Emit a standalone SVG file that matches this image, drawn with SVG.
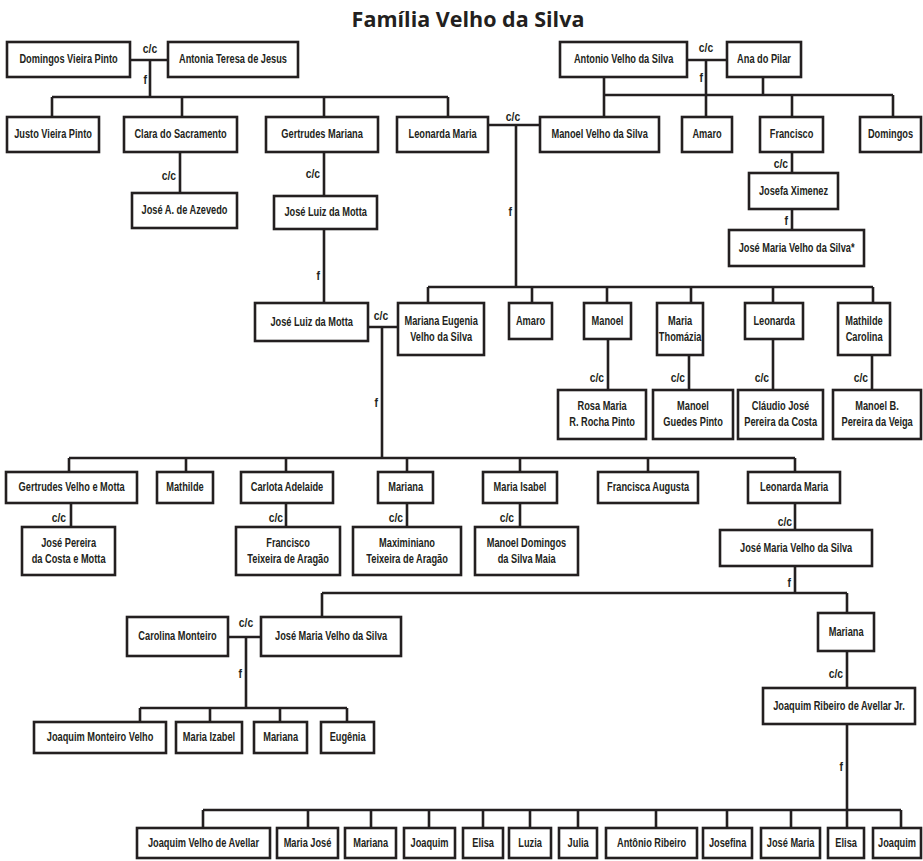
<svg xmlns="http://www.w3.org/2000/svg" width="923" height="861" viewBox="0 0 923 861">
<style>
.b{fill:#fff;stroke:#231f20;stroke-width:2.6}
.t{font-family:"Liberation Sans",Arial,sans-serif;font-weight:bold;font-size:12px;fill:#231f20;text-anchor:middle;transform-box:fill-box;transform-origin:center;transform:scaleX(.77)}
.l{font-family:"Liberation Sans",Arial,sans-serif;font-weight:bold;font-size:13px;fill:#231f20;transform-box:fill-box;transform:scaleX(.8)}
.e{text-anchor:end;transform-origin:right}
.m{text-anchor:middle;transform-origin:center}
.c{fill:none;stroke:#231f20;stroke-width:2.6}
.title{font-family:"Open Sans","Liberation Sans",sans-serif;font-weight:bold;font-size:21.5px;fill:#231f20;text-anchor:middle}
</style>
<rect width="923" height="861" fill="#fff"/>
<text class="title" x="468" y="27">Família Velho da Silva</text>
<g id="connectors">
<path class="c" d="M130,60H168M150,60V97M52,97H448M52,97V117M182,97V117M324,97V117M448,97V117"/>
<path class="c" d="M687,60H727M706,60V95M604,77V117M763,77V95M604,95H893M706,95V117M792,95V117M893,95V117"/>
<path class="c" d="M180,152V193M324,152V196M324,229V303M792,152V173M792,209V230"/>
<path class="c" d="M488,125H540M516,125V287M428,287H873M428,287V303M532,287V303M607,287V303M691,287V303M773,287V303M873,287V303"/>
<path class="c" d="M608,339V390M689,355V390M773,339V390M872,355V390"/>
<path class="c" d="M368,327H398M382,327V458M69,458H795M69,458V472M186,458V472M286,458V472M407,458V472M520,458V472M648,458V472M795,458V472"/>
<path class="c" d="M71,503V527M286,503V527M407,503V527M520,503V527M795,503V530M795,566V593M322,593H847M322,593V617M847,593V613M847,651V688M847,724V810"/>
<path class="c" d="M228,637H261M246,637V708M140,708H347M140,708V722M210,708V722M280,708V722M347,708V722"/>
<path class="c" d="M203,810H901M203,810V828M308,810V828M371,810V828M429,810V828M483,810V828M530,810V828M578,810V828M656,810V828M727,810V828M791,810V828M847,810V828M901,810V828"/>
<text class="l m" x="150" y="53">c/c</text>
<text class="l e" x="147" y="84">f</text>
<text class="l m" x="706" y="52">c/c</text>
<text class="l e" x="703" y="82">f</text>
<text class="l m" x="513" y="121">c/c</text>
<text class="l e" x="512" y="216">f</text>
<text class="l e" x="176" y="180">c/c</text>
<text class="l e" x="320" y="178">c/c</text>
<text class="l e" x="320" y="280">f</text>
<text class="l e" x="788" y="168">c/c</text>
<text class="l e" x="788" y="225">f</text>
<text class="l m" x="381" y="320">c/c</text>
<text class="l e" x="378" y="407">f</text>
<text class="l e" x="604" y="382">c/c</text>
<text class="l e" x="685" y="382">c/c</text>
<text class="l e" x="769" y="382">c/c</text>
<text class="l e" x="868" y="382">c/c</text>
<text class="l e" x="66" y="522">c/c</text>
<text class="l e" x="283" y="522">c/c</text>
<text class="l e" x="403" y="522">c/c</text>
<text class="l e" x="514" y="522">c/c</text>
<text class="l e" x="792" y="526">c/c</text>
<text class="l e" x="791" y="587">f</text>
<text class="l m" x="246" y="627">c/c</text>
<text class="l e" x="242" y="678">f</text>
<text class="l e" x="843" y="678">c/c</text>
<text class="l e" x="843" y="771">f</text>
</g>
<g id="n1"><rect class="b" x="7" y="42" width="123" height="35"/><text class="t" x="68.5" y="63.5">Domingos Vieira Pinto</text></g>
<g id="n2"><rect class="b" x="168" y="42" width="130" height="35"/><text class="t" x="233" y="63.5">Antonia Teresa de Jesus</text></g>
<g id="n3"><rect class="b" x="560" y="42" width="127" height="35"/><text class="t" x="623.5" y="63.5">Antonio Velho da Silva</text></g>
<g id="n4"><rect class="b" x="727" y="42" width="74" height="35"/><text class="t" x="764" y="63.5">Ana do Pilar</text></g>
<g id="n5"><rect class="b" x="7" y="117" width="92" height="35"/><text class="t" x="53" y="138.5">Justo Vieira Pinto</text></g>
<g id="n6"><rect class="b" x="124" y="117" width="113" height="35"/><text class="t" x="180.5" y="138.5">Clara do Sacramento</text></g>
<g id="n7"><rect class="b" x="266" y="117" width="112" height="35"/><text class="t" x="322" y="138.5">Gertrudes Mariana</text></g>
<g id="n8"><rect class="b" x="397" y="117" width="91" height="35"/><text class="t" x="442.5" y="138.5">Leonarda Maria</text></g>
<g id="n9"><rect class="b" x="540" y="117" width="119" height="35"/><text class="t" x="599.5" y="138.5">Manoel Velho da Silva</text></g>
<g id="n10"><rect class="b" x="682" y="117" width="50" height="35"/><text class="t" x="707" y="138.5">Amaro</text></g>
<g id="n11"><rect class="b" x="760" y="117" width="63" height="35"/><text class="t" x="791.5" y="138.5">Francisco</text></g>
<g id="n12"><rect class="b" x="860" y="117" width="61" height="35"/><text class="t" x="890.5" y="138.5">Domingos</text></g>
<g id="n13"><rect class="b" x="132" y="193" width="105" height="35"/><text class="t" x="184.5" y="214.5">José A. de Azevedo</text></g>
<g id="n14"><rect class="b" x="274" y="196" width="103" height="33"/><text class="t" x="325.5" y="216.5">José Luiz da Motta</text></g>
<g id="n15"><rect class="b" x="749" y="173" width="89" height="36"/><text class="t" x="793.5" y="195">Josefa Ximenez</text></g>
<g id="n16"><rect class="b" x="729" y="230" width="135" height="36"/><text class="t" x="796.5" y="252">José Maria Velho da Silva*</text></g>
<g id="n17"><rect class="b" x="255" y="303" width="113" height="38"/><text class="t" x="311.5" y="326">José Luiz da Motta</text></g>
<g id="n18"><rect class="b" x="398" y="303" width="86" height="52"/><text class="t" x="441" y="325">Mariana Eugenia</text><text class="t" x="441" y="341">Velho da Silva</text></g>
<g id="n19"><rect class="b" x="509" y="303" width="43" height="36"/><text class="t" x="530.5" y="325">Amaro</text></g>
<g id="n20"><rect class="b" x="584" y="303" width="47" height="36"/><text class="t" x="607.5" y="325">Manoel</text></g>
<g id="n21"><rect class="b" x="657" y="303" width="46" height="52"/><text class="t" x="680" y="325">Maria</text><text class="t" x="680" y="341">Thomázia</text></g>
<g id="n22"><rect class="b" x="745" y="303" width="58" height="36"/><text class="t" x="774" y="325">Leonarda</text></g>
<g id="n23"><rect class="b" x="838" y="303" width="52" height="52"/><text class="t" x="864" y="325">Mathilde</text><text class="t" x="864" y="341">Carolina</text></g>
<g id="n24"><rect class="b" x="558" y="390" width="88" height="49"/><text class="t" x="602" y="410.5">Rosa Maria</text><text class="t" x="602" y="426.5">R. Rocha Pinto</text></g>
<g id="n25"><rect class="b" x="653" y="390" width="80" height="49"/><text class="t" x="693" y="410.5">Manoel</text><text class="t" x="693" y="426.5">Guedes Pinto</text></g>
<g id="n26"><rect class="b" x="738" y="390" width="85" height="49"/><text class="t" x="780.5" y="410.5">Cláudio José</text><text class="t" x="780.5" y="426.5">Pereira da Costa</text></g>
<g id="n27"><rect class="b" x="833" y="390" width="88" height="49"/><text class="t" x="877" y="410.5">Manoel B.</text><text class="t" x="877" y="426.5">Pereira da Veiga</text></g>
<g id="n28"><rect class="b" x="6" y="472" width="131" height="31"/><text class="t" x="71.5" y="491.5">Gertrudes Velho e Motta</text></g>
<g id="n29"><rect class="b" x="157" y="472" width="56" height="31"/><text class="t" x="185" y="491.5">Mathilde</text></g>
<g id="n30"><rect class="b" x="241" y="472" width="92" height="31"/><text class="t" x="287" y="491.5">Carlota Adelaide</text></g>
<g id="n31"><rect class="b" x="378" y="472" width="55" height="31"/><text class="t" x="405.5" y="491.5">Mariana</text></g>
<g id="n32"><rect class="b" x="483" y="472" width="74" height="31"/><text class="t" x="520" y="491.5">Maria Isabel</text></g>
<g id="n33"><rect class="b" x="598" y="472" width="100" height="31"/><text class="t" x="648" y="491.5">Francisca Augusta</text></g>
<g id="n34"><rect class="b" x="748" y="472" width="92" height="31"/><text class="t" x="794" y="491.5">Leonarda Maria</text></g>
<g id="n35"><rect class="b" x="22" y="527" width="93" height="48"/><text class="t" x="68.5" y="547">José Pereira</text><text class="t" x="68.5" y="563">da Costa e Motta</text></g>
<g id="n36"><rect class="b" x="236" y="527" width="104" height="48"/><text class="t" x="288" y="547">Francisco</text><text class="t" x="288" y="563">Teixeira de Aragão</text></g>
<g id="n37"><rect class="b" x="353" y="527" width="108" height="48"/><text class="t" x="407" y="547">Maximiniano</text><text class="t" x="407" y="563">Teixeira de Aragão</text></g>
<g id="n38"><rect class="b" x="475" y="527" width="103" height="48"/><text class="t" x="526.5" y="547">Manoel Domingos</text><text class="t" x="526.5" y="563">da Silva Maia</text></g>
<g id="n39"><rect class="b" x="720" y="530" width="152" height="36"/><text class="t" x="796" y="552">José Maria Velho da Silva</text></g>
<g id="n40"><rect class="b" x="127" y="617" width="101" height="39"/><text class="t" x="177.5" y="640.5">Carolina Monteiro</text></g>
<g id="n41"><rect class="b" x="261" y="617" width="140" height="39"/><text class="t" x="331" y="640.5">José Maria Velho da Silva</text></g>
<g id="n42"><rect class="b" x="818" y="613" width="56" height="38"/><text class="t" x="846" y="636">Mariana</text></g>
<g id="n43"><rect class="b" x="763" y="688" width="152" height="36"/><text class="t" x="839" y="710">Joaquim Ribeiro de Avellar Jr.</text></g>
<g id="n44"><rect class="b" x="34" y="722" width="132" height="31"/><text class="t" x="100" y="741.5">Joaquim Monteiro Velho</text></g>
<g id="n45"><rect class="b" x="176" y="722" width="66" height="31"/><text class="t" x="209" y="741.5">Maria Izabel</text></g>
<g id="n46"><rect class="b" x="254" y="722" width="53" height="31"/><text class="t" x="280.5" y="741.5">Mariana</text></g>
<g id="n47"><rect class="b" x="321" y="722" width="53" height="31"/><text class="t" x="347.5" y="741.5">Eugênia</text></g>
<g id="n48"><rect class="b" x="137" y="828" width="133" height="30"/><text class="t" x="203.5" y="847">Joaquim Velho de Avellar</text></g>
<g id="n49"><rect class="b" x="277" y="828" width="61" height="30"/><text class="t" x="307.5" y="847">Maria José</text></g>
<g id="n50"><rect class="b" x="345" y="828" width="51" height="30"/><text class="t" x="370.5" y="847">Mariana</text></g>
<g id="n51"><rect class="b" x="404" y="828" width="51" height="30"/><text class="t" x="429.5" y="847">Joaquim</text></g>
<g id="n52"><rect class="b" x="463" y="828" width="40" height="30"/><text class="t" x="483" y="847">Elisa</text></g>
<g id="n53"><rect class="b" x="509" y="828" width="42" height="30"/><text class="t" x="530" y="847">Luzia</text></g>
<g id="n54"><rect class="b" x="559" y="828" width="38" height="30"/><text class="t" x="578" y="847">Julia</text></g>
<g id="n55"><rect class="b" x="606" y="828" width="91" height="30"/><text class="t" x="651.5" y="847">Antônio Ribeiro</text></g>
<g id="n56"><rect class="b" x="703" y="828" width="49" height="30"/><text class="t" x="727.5" y="847">Josefina</text></g>
<g id="n57"><rect class="b" x="761" y="828" width="59" height="30"/><text class="t" x="790.5" y="847">José Maria</text></g>
<g id="n58"><rect class="b" x="828" y="828" width="36" height="30"/><text class="t" x="846" y="847">Elisa</text></g>
<g id="n59"><rect class="b" x="873" y="828" width="48" height="30"/><text class="t" x="897" y="847">Joaquim</text></g>
</svg>
